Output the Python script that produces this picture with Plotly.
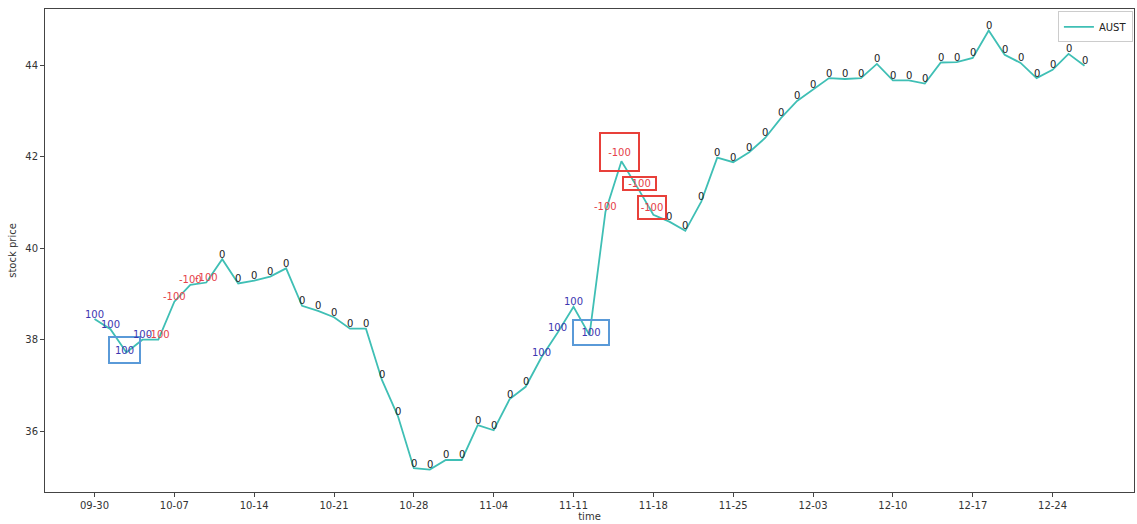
import plotly.graph_objects as go

# ---- data ----
dates = ["09-30", "10-01", "10-02", "10-03", "10-04",
         "10-07", "10-08", "10-09", "10-10", "10-11",
         "10-14", "10-15", "10-16", "10-17", "10-18",
         "10-21", "10-22", "10-23", "10-24", "10-25",
         "10-28", "10-29", "10-30", "10-31", "11-01",
         "11-04", "11-05", "11-06", "11-07", "11-08",
         "11-11", "11-12", "11-13", "11-14", "11-15",
         "11-18", "11-19", "11-20", "11-21", "11-22",
         "11-25", "11-26", "11-27", "11-29", "12-02",
         "12-03", "12-04", "12-05", "12-06", "12-09",
         "12-10", "12-11", "12-12", "12-13", "12-16",
         "12-17", "12-18", "12-19", "12-20", "12-23",
         "12-24", "12-26", "12-27"]

prices = [38.45, 38.23, 37.72, 38.00, 38.00,
          38.83, 39.20, 39.25, 39.76, 39.23,
          39.29, 39.38, 39.56, 38.74, 38.63,
          38.49, 38.24, 38.24, 37.12, 36.33,
          35.19, 35.16, 35.37, 35.37, 36.13,
          36.02, 36.70, 36.97, 37.62, 38.15,
          38.72, 38.10, 40.80, 41.90, 41.33,
          40.73, 40.58, 40.38, 41.02, 41.98,
          41.88, 42.10, 42.41, 42.85, 43.22,
          43.48, 43.72, 43.70, 43.72, 44.03,
          43.67, 43.67, 43.60, 44.06, 44.07,
          44.16, 44.76, 44.23, 44.05, 43.72,
          43.90, 44.25, 43.99]

signals = ([100] * 4 + [-100] * 4 + [0] * 20 +
           [100] * 4 + [-100] * 4 + [0] * 27)

tick_step = 5
y_ticks = [36, 38, 40, 42, 44]

# boxed signal labels: index -> (box width, box height, xshift, yshift)
boxed = {2: (29, 24, -1.5, 3), 31: (34, 23, 1.5, 2.5),
         33: (37, 36, -1.5, 9), 34: (31, 11, 2.5, 3.5), 35: (26, 21, -1.5, 7.5)}

LINE = "#3fbfb5"
BLUE_TXT = "#3c36b0"
RED_TXT = "#e5414a"
BLUE_BOX = "#5a9ad8"
RED_BOX = "#e8403a"
FONT = "DejaVu Sans"

idx = list(range(len(prices)))

fig = go.Figure()
fig.add_trace(go.Scatter(x=idx, y=prices, mode="lines", name="AUST",
                         line=dict(color=LINE, width=1.8)))

for i, (p, s) in enumerate(zip(prices, signals)):
    col = BLUE_TXT if s > 0 else (RED_TXT if s < 0 else "#222222")
    ann = dict(x=i, y=p, text=str(s), showarrow=False, xanchor="center",
               yanchor="middle", yshift=5,
               font=dict(family=FONT, size=10, color=col))
    if i in boxed:
        w, h, xs, ys = boxed[i]
        ann.update(width=w, height=h, xshift=xs, yshift=ys, borderpad=0,
                   bordercolor=BLUE_BOX if s > 0 else RED_BOX, borderwidth=2)
    fig.add_annotation(**ann)

tickvals = idx[::tick_step]
ticktext = dates[::tick_step]

fig.update_layout(
    width=1137, height=524,
    margin=dict(l=45, r=3, t=9, b=32),
    paper_bgcolor="white", plot_bgcolor="white",
    font=dict(family=FONT, size=10, color="#333333"),
    showlegend=True,
    legend=dict(x=0.999, y=0.995, xanchor="right", yanchor="top",
                bgcolor="rgba(255,255,255,0.8)", bordercolor="#cccccc",
                borderwidth=1, font=dict(size=10, color="#222222"),
                itemwidth=30, tracegroupgap=0),
    xaxis=dict(range=[-3.1, len(prices) - 1 + 3.1], tickmode="array",
               tickvals=tickvals, ticktext=ticktext, showgrid=False,
               zeroline=False, showline=True, linecolor="#444444",
               linewidth=1, mirror=True, ticks="outside", ticklen=4,
               tickcolor="#444444", automargin=False,
               title=dict(text="time", standoff=2,
                          font=dict(size=10, color="#333333"))),
    yaxis=dict(range=[34.67, 45.23], tickmode="array", tickvals=y_ticks,
               showgrid=False, zeroline=False, showline=True,
               linecolor="#444444", linewidth=1, mirror=True,
               ticks="outside", ticklen=4, tickcolor="#444444",
               automargin=False,
               title=dict(text="stock price", standoff=6,
                          font=dict(size=10, color="#333333"))),
)

fig.write_html("out.html", config={"displayModeBar": False},
               post_script="document.body.style.margin='0';"
                           "document.body.style.overflow='hidden';")
